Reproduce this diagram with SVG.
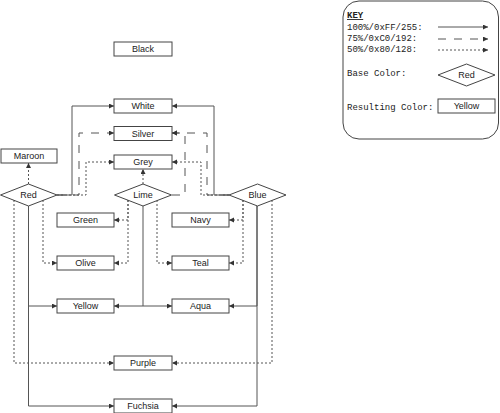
<svg xmlns="http://www.w3.org/2000/svg" width="500" height="413" viewBox="0 0 500 413">
<defs>
<marker id="ah" markerUnits="userSpaceOnUse" markerWidth="6" markerHeight="6" refX="5" refY="2.5" orient="auto">
<path d="M0,0 L5,2.5 L0,5 z" fill="#333"/>
</marker>
<style>
.box{fill:#fff;stroke:#444;stroke-width:1}
.lbl{font-family:"Liberation Sans",Arial,sans-serif;font-size:9px;fill:#222;text-anchor:middle;dominant-baseline:central}
.key{font-family:"Liberation Mono","Courier New",monospace;font-size:9px;fill:#222}
.c{fill:none;stroke:#555;stroke-width:1;marker-end:url(#ah)}
.s{}
.d{stroke-dasharray:8 8}
.o{stroke-dasharray:2 2}
</style>
</defs>
<rect width="500" height="413" fill="#fff"/>

<g id="connectors">
<path class="c s" d="M57,195 H72 V106 H114"/>
<path class="c s" d="M229,195 H214 V106 H172"/>
<path class="c s" d="M28.5,206 V306 H57"/>
<path class="c s" d="M28.5,206 V406 H114"/>
<path class="c s" d="M143,206 V306 H114"/>
<path class="c s" d="M143,306 H172"/>
<path class="c s" d="M257,206 V306 H229"/>
<path class="c s" d="M257,206 V406 H172"/>
<path class="c d" d="M57,195 H79 V133 H114"/>
<path class="c d" d="M172,195 H185 V133 H172"/>
<path class="c d" d="M229,195 H207 V133 H172"/>
<path class="c o" d="M57,195 H86 V162 H114"/>
<path class="c o" d="M143,184 V169"/>
<path class="c o" d="M229,195 H201 V162 H172"/>
<path class="c o" d="M28.5,184 V163"/>
<path class="c o" d="M43,200 V263 H57"/>
<path class="c o" d="M14,200 V363 H114"/>
<path class="c o" d="M128,200 V220 H114"/>
<path class="c o" d="M128,200 V263 H114"/>
<path class="c o" d="M157,200 V263 H172"/>
<path class="c o" d="M243,200 V220 H229"/>
<path class="c o" d="M243,200 V263 H229"/>
<path class="c o" d="M272,200 V363 H172"/>
</g>

<g id="black"><rect class="box" x="114" y="42" width="58" height="14"/><text class="lbl" x="143" y="49">Black</text></g>
<g id="white"><rect class="box" x="114" y="99" width="58" height="14"/><text class="lbl" x="143" y="106">White</text></g>
<g id="silver"><rect class="box" x="114" y="126.5" width="58" height="14"/><text class="lbl" x="143" y="133.5">Silver</text></g>
<g id="grey"><rect class="box" x="114" y="155" width="58" height="14"/><text class="lbl" x="143" y="162">Grey</text></g>
<g id="maroon"><rect class="box" x="1" y="149" width="56" height="14"/><text class="lbl" x="29" y="156">Maroon</text></g>
<g id="red"><path class="box" d="M0.5,195 L28.5,184 L57,195 L28.5,206 Z"/><text class="lbl" x="28.5" y="195">Red</text></g>
<g id="lime"><path class="box" d="M114.5,195 L143,184 L171.5,195 L143,206 Z"/><text class="lbl" x="143" y="195">Lime</text></g>
<g id="blue"><path class="box" d="M229,195 L257.5,184 L286,195 L257.5,206 Z"/><text class="lbl" x="257.5" y="195">Blue</text></g>
<g id="green"><rect class="box" x="57" y="213" width="57" height="14"/><text class="lbl" x="85.5" y="220">Green</text></g>
<g id="navy"><rect class="box" x="172" y="213" width="57" height="14"/><text class="lbl" x="200.5" y="220">Navy</text></g>
<g id="olive"><rect class="box" x="57" y="256" width="57" height="14"/><text class="lbl" x="85.5" y="263">Olive</text></g>
<g id="teal"><rect class="box" x="172" y="256" width="57" height="14"/><text class="lbl" x="200.5" y="263">Teal</text></g>
<g id="yellow"><rect class="box" x="57" y="299" width="57" height="14"/><text class="lbl" x="85.5" y="306">Yellow</text></g>
<g id="aqua"><rect class="box" x="172" y="299" width="57" height="14"/><text class="lbl" x="200.5" y="306">Aqua</text></g>
<g id="purple"><rect class="box" x="114" y="356" width="58" height="14"/><text class="lbl" x="143" y="363">Purple</text></g>
<g id="fuchsia"><rect class="box" x="114" y="399" width="58" height="14"/><text class="lbl" x="143" y="406">Fuchsia</text></g>

<g id="key">
<rect x="343" y="1" width="155.5" height="138" rx="16" ry="16" fill="#fff" stroke="#444"/>
<text class="key" x="347" y="18" font-weight="bold" text-decoration="underline">KEY</text>
<text class="key" x="347" y="30">100%/0xFF/255:</text>
<text class="key" x="347" y="41">75%/0xC0/192:</text>
<text class="key" x="347" y="52">50%/0x80/128:</text>
<text class="key" x="347" y="76">Base Color:</text>
<text class="key" x="347" y="110">Resulting Color:</text>
<path class="c s" d="M438,27 H488"/>
<path class="c d" d="M438,39 H488"/>
<path class="c o" d="M438,50 H488"/>
<path class="box" d="M438,75 L466.5,64 L495,75 L466.5,86 Z"/>
<text class="lbl" x="466.5" y="75">Red</text>
<rect class="box" x="438" y="99" width="57" height="14"/>
<text class="lbl" x="466.5" y="106">Yellow</text>
</g>
</svg>
